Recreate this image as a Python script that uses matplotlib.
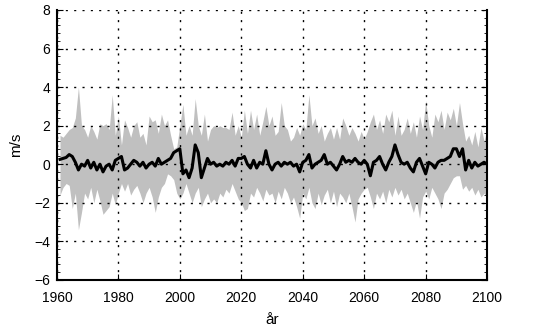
import numpy as np
import matplotlib.pyplot as plt
from matplotlib.ticker import AutoMinorLocator

# vind: medel och spridning per år (avlasta fran bilden)
ar = np.arange(1961, 2101)

ovre = [1.5, 1.4, 1.6, 1.8, 1.9, 2.4, 4.0, 2.0, 1.8, 1.4,
        2.0, 1.7, 1.3, 2.1, 2.0, 2.1, 1.8, 3.6, 1.5, 2.5,
        1.0, 2.3, 1.9, 1.4, 2.0, 2.2, 1.4, 1.6, 1.0, 2.5,
        2.2, 2.3, 1.6, 2.6, 2.0, 2.3, 1.5, 0.8, 0.9, 2.0,
        3.1, 1.5, 2.0, 1.5, 3.4, 2.0, 1.5, 2.6, 1.2, 1.8,
        2.0, 1.9, 2.0, 1.9, 1.9, 1.8, 2.7, 1.5, 2.0, 1.4,
        2.8, 1.6, 2.8, 1.8, 2.6, 1.5, 2.2, 3.0, 2.0, 2.5,
        1.5, 1.7, 3.2, 2.0, 1.8, 1.2, 1.4, 1.9, 1.5, 2.1,
        1.8, 3.6, 2.0, 2.4, 1.6, 2.0, 1.2, 1.6, 1.9, 1.3,
        1.9, 1.3, 2.4, 2.0, 1.5, 1.9, 1.6, 1.2, 1.7, 1.3,
        1.7, 2.2, 2.6, 1.8, 2.3, 1.6, 2.6, 2.2, 2.8, 1.5,
        2.5, 1.5, 1.8, 2.4, 1.6, 2.2, 1.4, 2.5, 1.8, 3.3,
        2.0, 1.4, 2.6, 2.2, 2.8, 1.8, 2.7, 2.3, 2.9, 2.0,
        3.2, 2.1, 1.2, 1.5, 1.0, 1.7, 0.9, 1.9, 1.2, 1.8]

undre = [-1.6, -1.2, -1.0, -1.1, -2.3, -1.5, -3.4, -2.5, -1.5, -1.8,
         -1.2, -2.0, -1.3, -1.9, -2.6, -2.4, -2.2, -1.5, -2.1, -1.5,
         -1.0, -1.4, -1.0, -1.6, -1.3, -1.1, -1.5, -2.0, -1.5, -1.2,
         -1.7, -2.5, -1.7, -1.2, -1.0, -0.5, -0.6, -0.8, -1.5, -1.8,
         -1.5, -1.0, -1.5, -2.0, -1.5, -1.2, -2.2, -1.8, -1.5, -2.0,
         -1.8, -2.0, -1.5, -1.7, -1.3, -1.5, -1.0, -1.4, -1.8, -2.0,
         -2.4, -2.3, -1.5, -1.7, -1.2, -1.5, -1.9, -1.3, -1.6, -1.5,
         -2.0, -1.4, -1.8, -1.2, -1.5, -2.0, -1.7, -2.2, -2.8, -1.5,
         -1.8, -1.2, -2.0, -2.3, -1.5, -2.1, -1.6, -1.3, -2.0, -1.4,
         -2.2, -1.5, -1.7, -2.0, -1.5, -2.2, -3.0, -1.8, -1.5, -1.3,
         -1.2, -1.7, -2.3, -1.5, -1.8, -1.4, -2.0, -1.3, -1.7, -1.2,
         -1.6, -1.3, -1.8, -1.5, -2.0, -2.5, -1.9, -2.8, -1.7, -1.4,
         -1.8, -1.2, -1.5, -1.8, -2.3, -1.5, -1.3, -1.0, -0.7, -0.6,
         -0.6, -1.3, -1.1, -1.4, -1.2, -1.6, -1.3, -1.7, -1.5, -1.8]

medel = [0.25, 0.3, 0.35, 0.5, 0.4, 0.1, -0.3, 0.0, -0.1, 0.2,
         -0.2, 0.1, -0.3, 0.0, -0.4, -0.1, 0.0, -0.3, 0.2, 0.3,
         0.4, -0.3, -0.2, 0.0, 0.2, 0.1, -0.1, 0.1, -0.2, 0.0,
         0.1, -0.1, 0.3, 0.0, 0.1, 0.2, 0.3, 0.6, 0.7, 0.8,
         -0.5, -0.3, -0.7, -0.2, 1.0, 0.6, -0.7, -0.2, 0.3, 0.0,
         0.1, -0.1, 0.0, -0.1, 0.1, 0.0, 0.2, -0.1, 0.3, 0.3,
         0.4, 0.0, -0.2, 0.2, -0.2, 0.1, 0.0, 0.7, 0.0, -0.3,
         0.0, 0.1, -0.1, 0.1, 0.0, 0.1, -0.1, 0.0, -0.4, 0.1,
         0.2, 0.5, -0.2, 0.0, 0.1, 0.2, 0.5, 0.0, 0.1, -0.1,
         -0.3, 0.0, 0.4, 0.1, 0.2, 0.1, 0.3, 0.1, 0.0, 0.2,
         0.0, -0.6, 0.1, 0.2, 0.4, 0.0, -0.3, 0.1, 0.4, 1.0,
         0.5, 0.1, 0.0, 0.1, -0.2, -0.4, 0.1, 0.3, -0.1, -0.5,
         0.1, 0.0, -0.2, 0.1, 0.2, 0.2, 0.3, 0.4, 0.8, 0.8,
         0.4, 0.8, -0.3, 0.2, -0.2, 0.1, -0.1, 0.0, 0.1, 0.0]

plt.rcParams["font.family"] = ["Liberation Sans", "DejaVu Sans"]

fig = plt.figure(figsize=(5.58, 3.32), dpi=100)
ax = fig.add_axes([0.102, 0.157, 0.771, 0.813])

ax.fill_between(ar, undre, ovre, color="#c0c0c0", linewidth=0, zorder=1)
ax.plot(ar, medel, color="black", linewidth=2.2, zorder=3)

ax.set_xlim(1960, 2100)
ax.set_ylim(-6, 8)
ax.set_xticks(np.arange(1960, 2101, 20))
ax.set_yticks(np.arange(-6, 9, 2))
ax.yaxis.set_minor_locator(AutoMinorLocator(5))
ax.tick_params(axis="both", which="major", direction="in", length=4,
               labelsize=10, right=True)
ax.tick_params(axis="x", which="major", pad=8)
ax.tick_params(axis="y", which="major", pad=5)
ax.tick_params(axis="y", which="minor", direction="in", length=2, right=True)

ax.grid(True, color="black", linestyle=(0, (1.5, 4.5)), linewidth=1.0, zorder=2)
ax.set_axisbelow(False)

ax.spines["top"].set_visible(False)
for s in ["left", "right", "bottom"]:
    ax.spines[s].set_linewidth(1.5)

ax.set_xlabel("år", fontsize=11, labelpad=6)
ax.set_ylabel("m/s", fontsize=11, labelpad=8)

fig.savefig("out.png", dpi=100)
